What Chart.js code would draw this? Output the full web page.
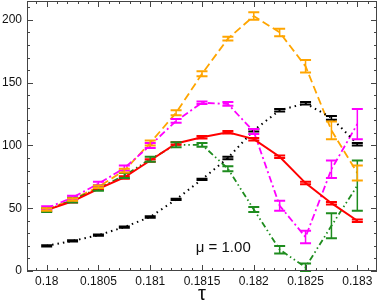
<!DOCTYPE html>
<html>
<head>
<meta charset="utf-8">
<script src="https://cdn.jsdelivr.net/npm/chart.js@4.4.1/dist/chart.umd.min.js"></script>
<style>
  html, body { margin: 0; padding: 0; background: #fff; }
  #wrap { width: 380px; height: 300px; }
</style>
</head>
<body>
<div id="wrap"><canvas id="chart"></canvas></div>
<script>
const taus = [0.18, 0.18025, 0.1805, 0.18075, 0.181, 0.18125, 0.1815, 0.18175, 0.182, 0.18225, 0.1825, 0.18275, 0.183];

const orangeVals = [49, 57, 67, 80, 102, 126, 157, 185, 203, 190, 163, 112, 78];
const orangeErr = [1, 1, 1, 1.5, 2, 2, 2, 1.5, 3, 3, 5, 7, 6];
const magentaVals = [50, 58.5, 69.5, 82, 100, 119.5, 134, 133, 111, 52, 27, 81, 117];
const magentaErr = [1.5, 1.5, 1.5, 2, 2, 1.5, 1, 1.5, 2, 4, 5, 7, 12];
const redVals = [48.5, 55.5, 65.5, 74.5, 88, 101.5, 106.5, 110.5, 105, 91, 70, 54, 40];
const redErr = [1, 1, 1, 1, 1, 1, 1, 1, 1, 1, 1, 1, 1];
const greenVals = [48.5, 56.5, 66, 76, 89, 100.5, 100.5, 81.5, 49, 17, 3, 36, 68];
const greenErr = [1.5, 2, 2, 2, 2, 2, 1.5, 2, 2, 3, 3, 10, 20];
const blackVals = [20, 24, 28.5, 35, 43, 57, 73, 90, 112, 128, 133.5, 122, 101];
const blackErr = [0.5, 0.5, 0.5, 0.5, 0.5, 0.5, 0.5, 1, 1, 1, 1, 1.5, 1];

const xTickVals = [0.18, 0.1805, 0.181, 0.1815, 0.182, 0.1825, 0.183];
const xTickLabels = ["0.18", "0.1805", "0.181", "0.1815", "0.182", "0.1825", "0.183"];
const yTickVals = [0, 50, 100, 150, 200];

const FONT = "Arial, 'Liberation Sans', sans-serif";

const mkSet = (vals, errs, color, dash, width) => ({
  data: taus.map((t, i) => ({ x: t, y: vals[i] })),
  errors: errs,
  borderColor: color,
  borderWidth: width,
  borderDash: dash,
  pointRadius: 0,
  fill: false,
  tension: 0,
});

// error bars, inward ticks, frame, axis title and the mu label
const decor = {
  id: "decor",
  afterDatasetsDraw(chart) {
    const ctx = chart.ctx;
    const xs = chart.scales.x, ys = chart.scales.y;
    const a = chart.chartArea;
    ctx.save();
    chart.data.datasets.forEach((ds) => {
      ctx.strokeStyle = ds.borderColor;
      ds.data.forEach((p, i) => {
        const e = ds.errors[i];
        const px = xs.getPixelForValue(p.x);
        const lo = ys.getPixelForValue(p.y - e);
        const hi = ys.getPixelForValue(p.y + e);
        ctx.lineWidth = 1.5;
        ctx.beginPath();
        ctx.moveTo(px, lo); ctx.lineTo(px, hi);
        ctx.stroke();
        ctx.lineWidth = 2;
        ctx.beginPath();
        ctx.moveTo(px - 5.5, lo); ctx.lineTo(px + 5.5, lo);
        ctx.moveTo(px - 5.5, hi); ctx.lineTo(px + 5.5, hi);
        ctx.stroke();
      });
    });

    ctx.strokeStyle = "#444";
    ctx.lineWidth = 1;
    ctx.beginPath();
    for (let k = 0; k <= 40; k++) {
      const v = 0.1798 + k * 0.0001;
      const px = Math.round(xs.getPixelForValue(v)) + 0.5;
      if (px < a.left || px > a.right) continue;
      const major = Math.abs(v * 2000 - Math.round(v * 2000)) < 1e-6;
      const len = major ? 6 : 3;
      ctx.moveTo(px, a.bottom); ctx.lineTo(px, a.bottom - len);
      ctx.moveTo(px, a.top); ctx.lineTo(px, a.top + len);
    }
    for (let v = 0; v <= 215; v += 10) {
      const py = Math.round(ys.getPixelForValue(v)) + 0.5;
      const len = v % 50 === 0 ? 6 : 3;
      ctx.moveTo(a.left, py); ctx.lineTo(a.left + len, py);
      ctx.moveTo(a.right, py); ctx.lineTo(a.right - len, py);
    }
    ctx.stroke();
    ctx.strokeRect(a.left + 0.5, a.top + 0.5, a.right - a.left - 1, a.bottom - a.top - 1);

    ctx.fillStyle = "#111";
    ctx.font = "15px " + FONT;
    ctx.textAlign = "left";
    ctx.textBaseline = "alphabetic";
    ctx.fillText("\u03bc = 1.00", xs.getPixelForValue(0.18144), ys.getPixelForValue(15));

    ctx.font = "20px " + FONT;
    ctx.textAlign = "center";
    ctx.fillText("\u03c4", (a.left + a.right) / 2, a.bottom + 29);
    ctx.restore();
  },
};

new Chart(document.getElementById("chart"), {
  type: "line",
  data: {
    datasets: [
      mkSet(redVals, redErr, "#ff0000", [], 2),
      mkSet(blackVals, blackErr, "#000000", [1.5, 4], 2),
      mkSet(greenVals, greenErr, "#1e8c1e", [6, 3, 1.5, 3, 1.5, 3], 1.8),
      mkSet(magentaVals, magentaErr, "#ff00ff", [7, 3, 2, 3], 1.8),
      mkSet(orangeVals, orangeErr, "#ffa500", [8, 4], 1.8),
    ],
  },
  plugins: [decor],
  options: {
    responsive: true,
    maintainAspectRatio: false,
    animation: false,
    layout: { padding: { top: 1, right: 3, left: 0, bottom: 0 } },
    plugins: { legend: { display: false }, tooltip: { enabled: false } },
    scales: {
      x: {
        type: "linear",
        min: 0.17981,
        max: 0.18319,
        grid: { display: false, drawTicks: false },
        border: { display: false },
        afterBuildTicks: (s) => { s.ticks = xTickVals.map((v) => ({ value: v })); },
        afterFit: (s) => { s.height = 29; s.paddingLeft = 0; s.paddingRight = 0; },
        ticks: {
          padding: 3,
          color: "#111",
          font: { size: 12, family: FONT },
          maxRotation: 0,
          autoSkip: false,
          callback: (v) => xTickLabels[xTickVals.findIndex((t) => Math.abs(t - v) < 1e-9)],
        },
      },
      y: {
        min: 0,
        max: 215,
        grid: { display: false, drawTicks: false },
        border: { display: false },
        afterBuildTicks: (s) => { s.ticks = yTickVals.map((v) => ({ value: v })); },
        afterFit: (s) => { s.width = 27; s.paddingTop = 0; s.paddingBottom = 0; },
        ticks: { padding: 5, color: "#111", font: { size: 12, family: FONT } },
      },
    },
  },
});
</script>
</body>
</html>
